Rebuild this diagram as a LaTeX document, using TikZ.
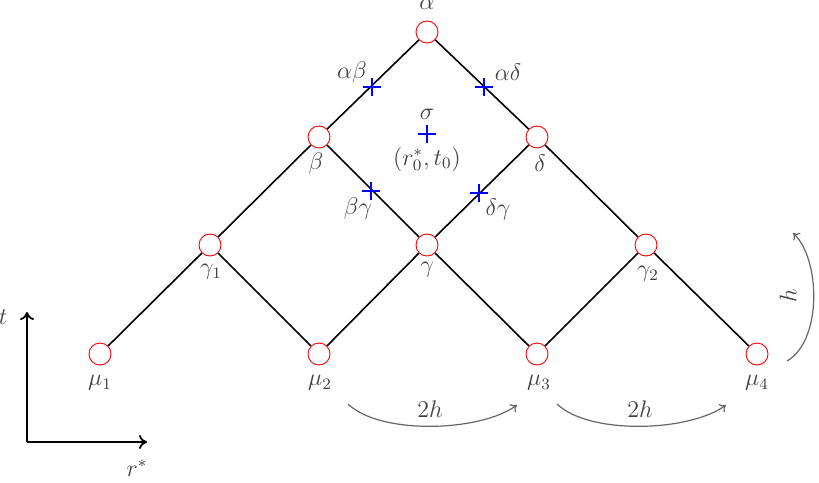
\documentclass[tikz,border=0pt]{standalone}
\usetikzlibrary{arrows.meta}
\begin{document}
\begin{tikzpicture}[x=0.5pt,y=-0.5pt,
  site/.style={circle,draw=red,fill=white,line width=0.45pt,minimum size=11pt,inner sep=0pt},
  edge/.style={line width=0.8pt,black},
  lbl/.style={text=black!75,inner sep=0pt,font=\fontsize{11.5}{13}\selectfont},
  plusmark/.style={blue,line width=0.75pt},
  garrow/.style={draw=black!60,line width=0.6pt,-{To[length=3pt,width=5pt]}},
  axis/.style={line width=0.9pt,-{To[length=4pt,width=7pt]}}]
\useasboundingbox (0,0) rectangle (819,482);
% lattice sites
\node[site] (a) at (427,32) {};
\node[site] (b) at (319,137) {};
\node[site] (d) at (537,137) {};
\node[site] (g1) at (210,245) {};
\node[site] (g) at (427,245) {};
\node[site] (g2) at (646,245) {};
\node[site] (m1) at (100,354) {};
\node[site] (m2) at (319,354) {};
\node[site] (m3) at (537,354) {};
\node[site] (m4) at (757,354) {};
% edges
\draw[edge] (a) -- (b);
\draw[edge] (a) -- (d);
\draw[edge] (b) -- (g1);
\draw[edge] (b) -- (g);
\draw[edge] (d) -- (g);
\draw[edge] (d) -- (g2);
\draw[edge] (g1) -- (m1);
\draw[edge] (g1) -- (m2);
\draw[edge] (g) -- (m2);
\draw[edge] (g) -- (m3);
\draw[edge] (g2) -- (m3);
\draw[edge] (g2) -- (m4);
% labels of sites
\node[lbl] (la) at (427,4) {$\alpha$};
\node[lbl] (lb) at (316,163) {$\beta$};
\node[lbl] (ld) at (540,163) {$\delta$};
\node[lbl] (lg1) at (211,272) {$\gamma_1$};
\node[lbl] (lg) at (427,270) {$\gamma$};
\node[lbl] (lg2) at (648,274) {$\gamma_2$};
\node[lbl] (lm1) at (100,383) {$\mu_1$};
\node[lbl] (lm2) at (320,383) {$\mu_2$};
\node[lbl] (lm3) at (539,383) {$\mu_3$};
\node[lbl] (lm4) at (757,383) {$\mu_4$};
% blue plus markers
\coordinate (pab) at (372,87);
\coordinate (pad) at (484,87);
\coordinate (ps) at (427,134);
\coordinate (pbg) at (371,191);
\coordinate (pdg) at (479,193);
\foreach \p in {pab,pad,ps,pbg,pdg}{
  \draw[plusmark] ([xshift=-9*0.5pt]\p) -- ([xshift=9*0.5pt]\p);
  \draw[plusmark] ([yshift=-9*0.5pt]\p) -- ([yshift=9*0.5pt]\p);
}
\node[lbl] (lab) at (352,72) {$\alpha\beta$};
\node[lbl] (lad) at (508,72) {$\alpha\delta$};
\node[lbl] (ls) at (427,114) {$\sigma$};
\node[lbl] (lr) at (427,159) {$(r_0^*,t_0)$};
\node[lbl] (lbg) at (358,208) {$\beta\gamma$};
\node[lbl] (ldg) at (498,209) {$\delta\gamma$};
% axes
\coordinate (o) at (27,442);
\coordinate (ty) at (27,312);
\coordinate (rx) at (147,442);
\draw[axis] (o) -- (ty);
\draw[axis] (o) -- (rx);
\node[lbl] (lt) at (3,317) {$t$};
\node[lbl] (lrs) at (137,468) {$r^*$};
% gray spacing arrows
\coordinate (s1) at (348,404);
\coordinate (e1) at (517,405);
\coordinate (s2) at (557,404);
\coordinate (e2) at (726,405);
\coordinate (s3) at (787,361);
\coordinate (e3) at (793,233);
\draw[garrow] (s1) .. controls (380,435) and (480,432) .. (e1);
\draw[garrow] (s2) .. controls (589,435) and (689,432) .. (e2);
\draw[garrow] (s3) .. controls (823,340) and (820,258) .. (e3);
\node[lbl] (l2h1) at (430,409) {$2h$};
\node[lbl] (l2h2) at (640,409) {$2h$};
\node[lbl,rotate=90] (lh) at (788,296) {$h$};
\end{tikzpicture}
\end{document}
